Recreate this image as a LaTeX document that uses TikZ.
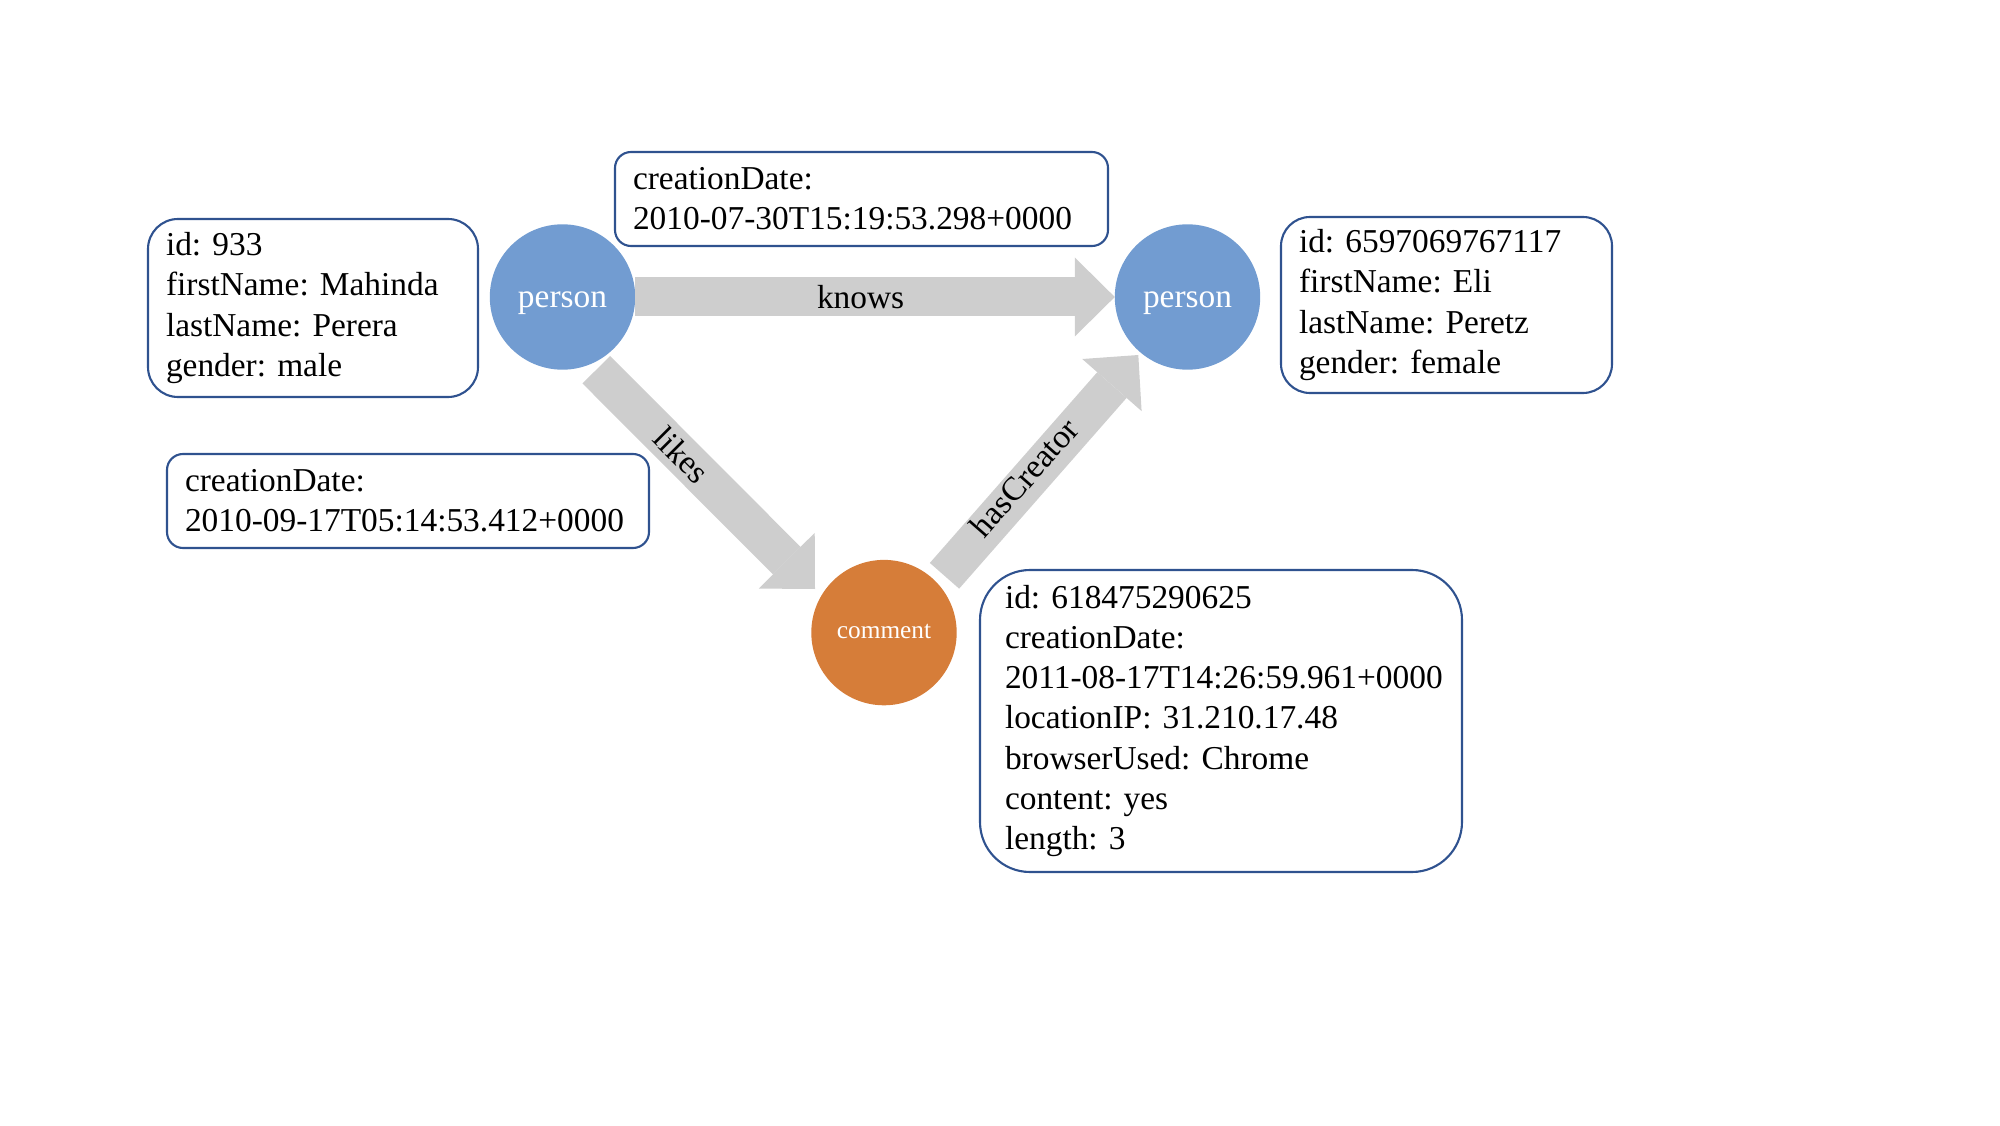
\documentclass[tikz,border=0pt]{standalone}
\usepackage{fontspec}
\setmainfont{Liberation Serif}
\usepackage{xcolor}
\usepackage{tikz}
\usetikzlibrary{arrows.meta, calc}
\frenchspacing
\definecolor{personblue}{RGB}{114,156,209}
\definecolor{commentorange}{RGB}{214,125,57}
\definecolor{edgegrey}{RGB}{206,206,206}
\definecolor{boxblue}{RGB}{47,82,143}
\tikzstyle{personnode} = [circle, minimum size=1.454cm, inner sep=0pt, outer sep=0pt, fill=personblue, text=white, text height=6.1pt, text depth=0pt, font=\fontsize{9.5}{11.4}\selectfont]
\tikzstyle{commentnode} = [circle, minimum size=1.454cm, inner sep=0pt, outer sep=0pt, fill=commentorange, text=white, text height=3.3pt, text depth=0pt, font=\fontsize{7.2}{8.6}\selectfont]
\tikzstyle{propbox} = [rectangle, draw=boxblue, line width=0.6pt, align=left, inner xsep=0.18cm, inner ysep=0pt, font=\fontsize{9.5}{11.4}\selectfont]
\tikzstyle{edgearrow} = [draw=edgegrey, line width=0.39cm, -{Triangle[width=0.79cm, length=0.40cm, line width=0pt]}]
\tikzstyle{edgelabel} = [inner sep=0pt, font=\fontsize{9.5}{11.4}\selectfont]

\begin{document}
\begin{tikzpicture}
    \useasboundingbox (0,0) rectangle (20,11.25);

        % Nodes
        \node (p1) [personnode] at (5.625,8.28) {person};
        \node (p2) [personnode] at (11.875,8.28) {person};
        \node (cmt) [commentnode] at (8.84,4.924) {comment};

        % Property boxes
        \node (p1props) [propbox, text width=2.94cm, minimum height=1.78cm, rounded corners=0.3cm] at (3.13,8.17) {id: 933\\ firstName: Mahinda\\ lastName: Perera\\ gender: male};
        \node (knowsprops) [propbox, text width=4.57cm, minimum height=0.94cm, rounded corners=0.16cm] at (8.615,9.26) {creationDate:\\ 2010-07-30T15:19:53.298+0000};
        \node (p2props) [propbox, text width=2.95cm, minimum height=1.76cm, rounded corners=0.29cm] at (14.465,8.20) {id: 6597069767117\\ firstName: Eli\\ lastName: Peretz\\ gender: female};
        \node (likesprops) [propbox, text width=4.46cm, minimum height=0.94cm, rounded corners=0.16cm] at (4.08,6.24) {creationDate:\\ 2010-09-17T05:14:53.412+0000};
        \node (cmtprops) [propbox, inner xsep=0.25cm, text width=4.32cm, minimum height=3.02cm, rounded corners=0.5cm] at (12.21,4.04) {id: 618475290625\\ creationDate:\\ \mbox{2011-08-17T14:26:59.961+0000}\\ locationIP: 31.210.17.48\\ browserUsed: Chrome\\ content: yes\\ length: 3};

        % Arrow ends
        \coordinate (likesS) at ($(p1)+(0.338,-0.727)$);
        \coordinate (likesE) at ($(cmt)+(-0.69,0.436)$);
        \coordinate (hasS) at ($(cmt)+(0.605,0.568)$);
        \coordinate (hasE) at ($(p2)+(-0.492,-0.58)$);

        % Arrows
        \draw [edgearrow] (p1.east) -- node[edgelabel, pos=0.47] {knows} (p2.west);
        \draw [edgearrow] (likesS) -- node[edgelabel, sloped, pos=0.39] {likes} (likesE);
        \draw [edgearrow] (hasS) -- node[edgelabel, sloped, pos=0.43, yshift=0.05cm] {hasCreator} (hasE);
    \end{tikzpicture}
\end{document}
